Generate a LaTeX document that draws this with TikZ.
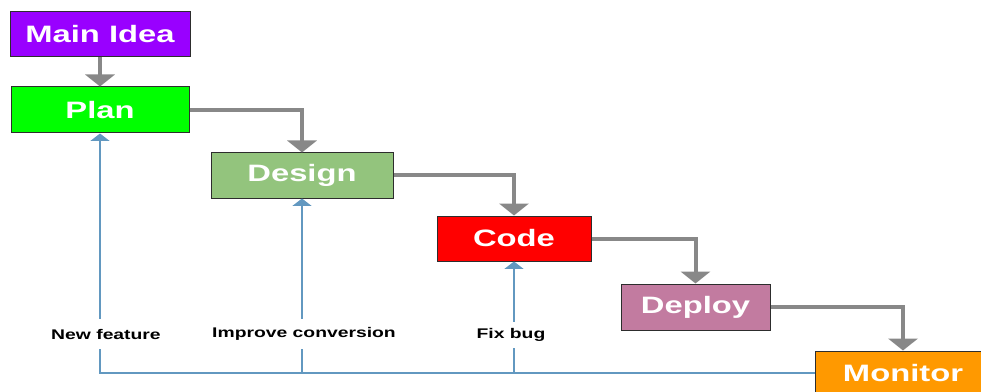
\documentclass[tikz,border=0pt]{standalone}
\usepackage{fontspec}
\setsansfont{Liberation Sans}
\usetikzlibrary{arrows.meta}
\definecolor{IdeaPurple}{RGB}{153,0,255}
\definecolor{PlanGreen}{RGB}{0,255,0}
\definecolor{DesignGreen}{RGB}{147,196,125}
\definecolor{CodeRed}{RGB}{255,0,0}
\definecolor{DeployPink}{RGB}{194,123,160}
\definecolor{MonitorOrange}{RGB}{255,153,0}
\definecolor{FlowGray}{RGB}{136,136,136}
\definecolor{LoopBlue}{RGB}{98,152,192}
\definecolor{EdgeDark}{RGB}{45,45,45}
\newcommand{\wtxt}[1]{\scalebox{1.38}[1]{#1}}

\begin{document}
\begin{tikzpicture}[x=0.75pt, y=-0.75pt, font=\sffamily\bfseries,
  stage/.style={draw=EdgeDark, line width=0.75pt, inner sep=0pt, text=white, font=\sffamily\bfseries\fontsize{17.8}{20}\selectfont},
  flow/.style={draw=FlowGray, line width=3pt, -{Triangle[width=22pt,length=9pt]}},
  back/.style={draw=LoopBlue, line width=1.8pt, -{Triangle[width=14pt,length=5.5pt]}},
  note/.style={fill=white, inner xsep=2pt, minimum height=23pt, font=\sffamily\bfseries\fontsize{10.5}{12}\selectfont}]
  \clip (0,0) rectangle (981,392);
  % stages
  \node[stage, fill=IdeaPurple, minimum width=135pt, minimum height=33.75pt] (idea) at (100,34.5) {\wtxt{Main Idea}};
  \node[stage, fill=PlanGreen, minimum width=133.5pt, minimum height=34.5pt] (plan) at (100,110) {\wtxt{Plan}};
  \node[stage, fill=DesignGreen, minimum width=136.5pt, minimum height=33.75pt] (design) at (302,175.5) {\wtxt{Design}};
  \node[stage, fill=CodeRed, minimum width=115.5pt, minimum height=33.75pt] (code) at (514,238.5) {\wtxt{Code}};
  \node[stage, fill=DeployPink, minimum width=111.75pt, minimum height=34.5pt] (deploy) at (695.5,307) {\wtxt{Deploy}};
  \node[stage, fill=MonitorOrange, minimum width=132pt, minimum height=33pt] (monitor) at (903,373) {\wtxt{Monitor}};
  % forward flow
  \draw[flow] (idea) -- (plan);
  \draw[flow] (plan.east) -| (design.north);
  \draw[flow] (design.east) -| (code.north);
  \draw[flow] (code.east) -| (deploy.north);
  \draw[flow] (deploy.east) -| (monitor.north);
  % feedback loops
  \draw[back] (monitor.west) -| (plan.south);
  \draw[back] (design.south |- monitor.west) -- (design.south);
  \draw[back] (code.south |- monitor.west) -- (code.south);
  \node[note] (feature) at (106,334) {\wtxt{New feature}};
  \node[note] (conversion) at (304,334) {\wtxt{Improve conversion}};
  \node[note, minimum height=20pt] (bug) at (511,335) {\wtxt{Fix bug}};
\end{tikzpicture}
\end{document}
